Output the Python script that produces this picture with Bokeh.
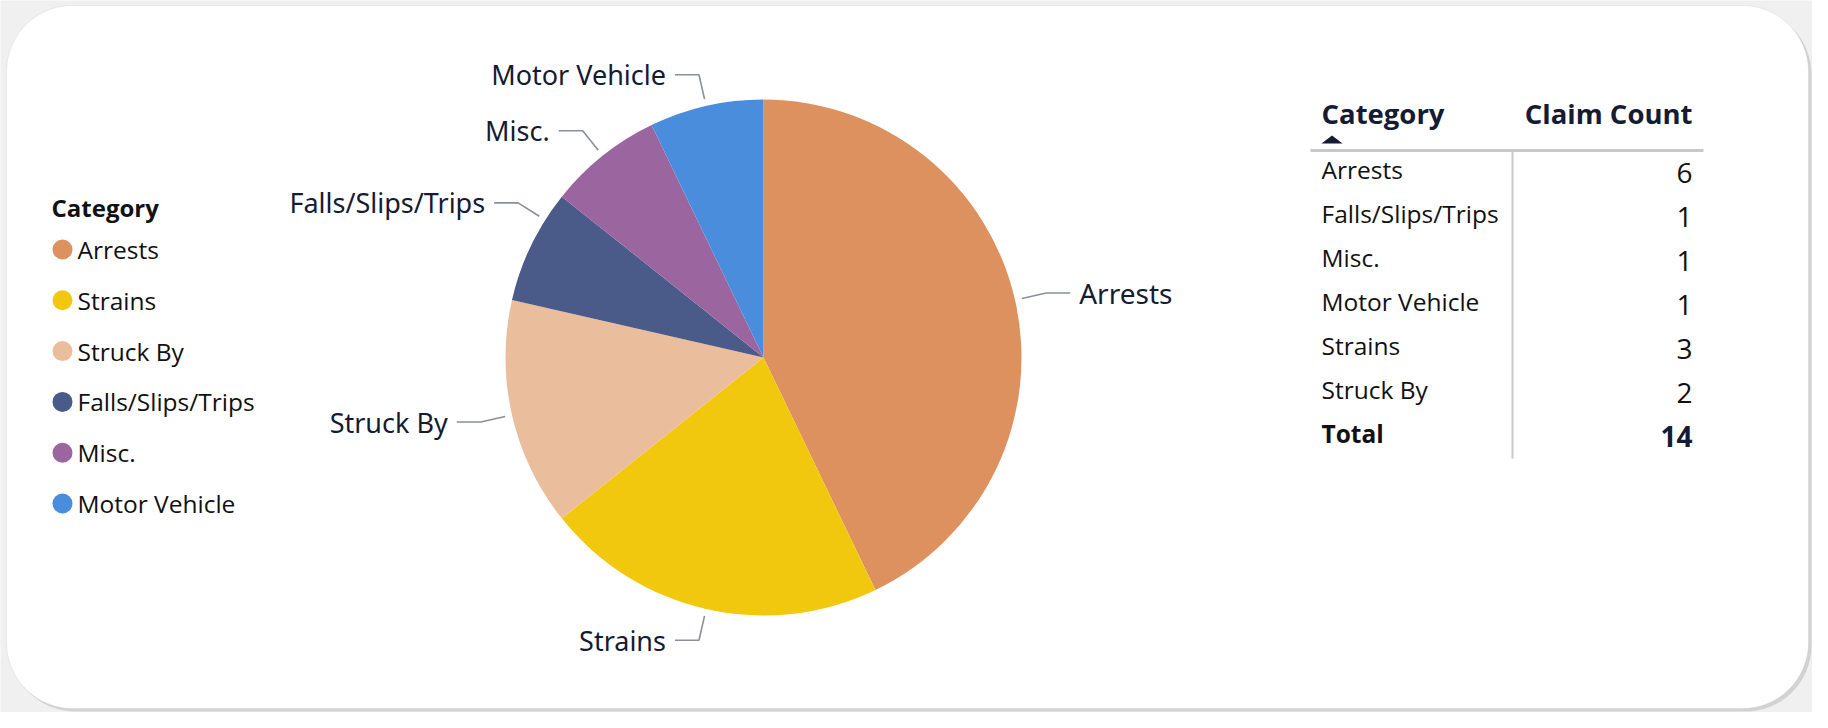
import math
import numpy as np
from bokeh.plotting import figure
from bokeh.models import Range1d, BoxAnnotation, ColumnDataSource
from bokeh.core.properties import value
from bokeh.embed import file_html
from bokeh.resources import INLINE

# ---------------- data ----------------
categories = ["Arrests", "Strains", "Struck By", "Falls/Slips/Trips", "Misc.", "Motor Vehicle"]
claim_counts = [6, 3, 2, 1, 1, 1]
slice_colors = ["#DD915F", "#F2C80F", "#EABD9D", "#4A5A89", "#9B65A0", "#4A8DDC"]
legend_title = "Category"
table_headers = ["Category", "Claim Count"]
total_label = "Total"

# ---------------- layout ----------------
W, H = 1812, 712
def Y(v):  # window y (down) -> data y (up)
    return 728 - v

CX, CY, R = 763, 357, 258
label_angle_shift = [0, 0, 0, 6.5, 0, 0]   # leader nudges (degrees)
LABEL_FONT = value("Noto Sans")
UI_FONT = value("Open Sans")
NAVY = "#141b33"

p = figure(width=W, height=H, x_range=Range1d(0, W), y_range=Range1d(728 - H, 728),
           output_backend="svg", toolbar_location=None, min_border=0,
           x_axis_type=None, y_axis_type=None)
p.grid.visible = False
p.outline_line_color = None
p.background_fill_color = "#f0f0f0"
p.border_fill_color = "#f0f0f0"

# card with shadow
shadow = BoxAnnotation(left=9, right=1811, top=Y(8), bottom=Y(711), border_radius=66,
                       fill_color="#000000", fill_alpha=0.12, line_color=None, level="underlay")
card = BoxAnnotation(left=6, right=1808, top=Y(5), bottom=Y(708), border_radius=66,
                     fill_color="white", fill_alpha=1.0, line_color="#c4c4c4", line_width=1,
                     level="underlay")
p.add_layout(shadow)
p.add_layout(card)

# ---------------- pie ----------------
total = sum(claim_counts)
cum = np.concatenate([[0], np.cumsum(claim_counts)]) / total * 360.0
src = ColumnDataSource(dict(
    start=[math.radians(90 - a) for a in cum[:-1]],
    end=[math.radians(90 - a) for a in cum[1:]],
    color=slice_colors, cat=categories))
p.wedge(x=CX, y=Y(CY), radius=R, start_angle="start", end_angle="end", direction="clock",
        fill_color="color", line_color=None, source=src)

# leaders + labels
lx, ly = [], []
right_lab = dict(x=[], y=[], t=[])
left_lab = dict(x=[], y=[], t=[])
for i, cat in enumerate(categories):
    mid = (cum[i] + cum[i + 1]) / 2 + label_angle_shift[i]
    dx, dy = math.sin(math.radians(mid)), math.cos(math.radians(mid))
    sx, sy = CX + (R + 7) * dx, CY - (R + 7) * dy
    ex, ey = CX + (R + 32) * dx, CY - (R + 32) * dy
    side = 1 if dx >= 0 else -1
    hx = ex + side * 24
    lx.append([sx, ex, hx])
    ly.append([Y(sy), Y(ey), Y(ey)])
    d = right_lab if side > 0 else left_lab
    d["x"].append(hx + side * 9)
    d["y"].append(Y(ey))
    d["t"].append(cat)
p.multi_line(xs=lx, ys=ly, line_color="#8a8f99", line_width=1.6)
p.text(x=right_lab["x"], y=right_lab["y"], text=right_lab["t"], text_align="left",
       text_baseline="middle", text_font=LABEL_FONT, text_font_size="28px", text_color=NAVY)
p.text(x=left_lab["x"], y=left_lab["y"], text=left_lab["t"], text_align="right",
       text_baseline="middle", text_font=LABEL_FONT, text_font_size="27px", text_color=NAVY)

# ---------------- legend ----------------
LEG_X, LEG_TY, LEG_Y0, LEG_DY = 51, 207, 249, 50.8
p.text(x=[LEG_X], y=[Y(LEG_TY)], text=[legend_title], text_baseline="middle",
       text_font=UI_FONT, text_font_size="24px", text_font_style="bold", text_color="#111111")
leg_y = [Y(LEG_Y0 + k * LEG_DY) for k in range(len(categories))]
p.scatter(x=[LEG_X + 11] * len(categories), y=leg_y, marker="circle", size=20,
          fill_color=slice_colors, line_color=None)
p.text(x=[LEG_X + 26] * len(categories), y=leg_y, text=categories, text_baseline="middle",
       text_font=UI_FONT, text_font_size="24.5px", text_color="#111111")

# ---------------- table ----------------
TL, TR, THY, ROW0, ROWDY = 1321, 1692, 113, 169, 44
rows = sorted(zip(categories, claim_counts), key=lambda r: r[0])
p.text(x=[TL], y=[Y(THY)], text=[table_headers[0]], text_baseline="middle",
       text_font=UI_FONT, text_font_size="27.5px", text_font_style="bold", text_color=NAVY)
p.text(x=[TR], y=[Y(THY)], text=[table_headers[1]], text_align="right", text_baseline="middle",
       text_font=UI_FONT, text_font_size="27.5px", text_font_style="bold", text_color=NAVY)
# sort arrow
p.patch(x=[TL, TL + 21, TL + 10.5], y=[Y(143), Y(143), Y(135)], fill_color=NAVY, line_color=None)
# grid lines
p.segment(x0=[1310], y0=[Y(150)], x1=[1703], y1=[Y(150)], line_color="#c8c8c8", line_width=3)
p.segment(x0=[1512], y0=[Y(151)], x1=[1512], y1=[Y(458)], line_color="#c8c8c8", line_width=2)
row_y = [Y(ROW0 + k * ROWDY) for k in range(len(rows))]
p.text(x=[TL] * len(rows), y=row_y, text=[r[0] for r in rows], text_baseline="middle",
       text_font=UI_FONT, text_font_size="24.5px", text_color="#111111")
p.text(x=[TR] * len(rows), y=[v - 3 for v in row_y], text=[str(r[1]) for r in rows],
       text_align="right", text_baseline="middle",
       text_font=UI_FONT, text_font_size="28px", text_color="#111111")
ty = Y(ROW0 + len(rows) * ROWDY)
p.text(x=[TL], y=[ty], text=[total_label], text_baseline="middle",
       text_font=UI_FONT, text_font_size="24.5px", text_font_style="bold", text_color="#111111")
p.text(x=[TR], y=[ty - 3], text=[str(total)], text_align="right", text_baseline="middle",
       text_font=UI_FONT, text_font_size="28px", text_font_style="bold", text_color=NAVY)

open("out.html", "w").write(file_html(p, INLINE))
